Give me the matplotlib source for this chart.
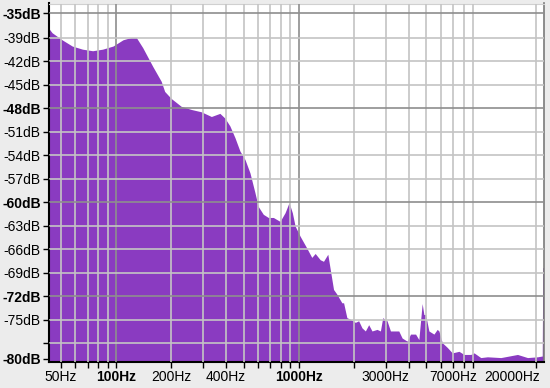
import matplotlib.pyplot as plt
import numpy as np

# spectrum readings (Hz, dB)
freq_hz = [43, 45, 51, 58, 66, 75, 85, 97, 110, 122, 130, 141, 160, 178, 186, 202,
           229, 260, 295, 335, 373, 397, 423, 451, 480, 512, 545, 580, 605, 645, 687,
           732, 796, 848, 892, 930, 963, 1026, 1115, 1188, 1240, 1321, 1377, 1454,
           1499, 1563, 1630, 1736, 1774, 1849, 1931, 2057, 2145, 2237, 2334, 2434,
           2538, 2704, 2822, 2905, 3068, 3203, 3339, 3557, 3710, 3952, 4125, 4396,
           4581, 4777, 4881, 4988, 5199, 5540, 5774, 5900, 6152, 6554, 6982, 7599,
           8093, 8812, 9189, 10000, 10873, 12880, 15890, 18030, 20460, 21700, 21850,
           22050]
level_db = [-37.8, -38.4, -39.3, -40.1, -40.5, -40.7, -40.5, -40.1, -39.3, -39.0,
            -39.0, -40.3, -42.7, -44.6, -45.9, -46.8, -47.8, -48.2, -48.5, -49.1,
            -48.7, -49.3, -50.3, -51.8, -53.5, -54.6, -56.3, -58.8, -60.6, -61.6,
            -62.0, -62.0, -62.5, -61.4, -60.1, -61.4, -63.1, -64.4, -65.9, -67.1,
            -66.6, -67.4, -67.6, -66.7, -68.6, -71.2, -71.8, -72.9, -72.9, -74.8,
            -75.0, -75.4, -75.2, -76.1, -76.5, -75.7, -76.5, -76.3, -76.5, -74.8,
            -75.2, -76.5, -76.5, -76.5, -77.4, -77.8, -76.9, -76.9, -77.6, -73.0,
            -74.4, -74.4, -76.5, -76.9, -76.3, -76.5, -78.0, -78.6, -79.3, -79.1,
            -79.5, -79.5, -79.3, -79.9, -79.8, -79.9, -79.5, -79.9, -79.8, -79.7,
            -68.4, -68.4]

x_ticks = [50, 60, 70, 80, 90, 100, 200, 300, 400, 500, 600, 700, 800, 900,
           1000, 2000, 3000, 4000, 5000, 6000, 7000, 8000, 9000, 20000]
x_labeled = {50: '50Hz', 100: '100Hz', 200: '200Hz', 400: '400Hz',
             1000: '1000Hz', 3000: '3000Hz', 7000: '7000Hz', 20000: '20000Hz'}
x_bold = [100, 1000]

y_ticks = [-35.85, -39, -42, -45, -48, -51, -54, -57, -60, -63, -66, -69, -72, -75, -78, -80]
y_labels = ['-35dB', '-39dB', '-42dB', '-45dB', '-48dB', '-51dB', '-54dB', '-57dB',
            '-60dB', '-63dB', '-66dB', '-69dB', '-72dB', '-75dB', '', '-80dB']
y_bold = ['-35dB', '-48dB', '-60dB', '-72dB', '-80dB']

plt.rcParams['font.family'] = ['Liberation Sans', 'DejaVu Sans']

fig = plt.figure(figsize=(5.5, 3.88), dpi=100, facecolor='#ececec')
ax = fig.add_axes([49/550, 1-362/388, 495/550, 358.5/388])
ax.set_facecolor('white')

ax.fill_between(freq_hz, level_db, -90, color='#8a3bc1', linewidth=0, zorder=1)

ax.set_xscale('log')
ax.set_xlim(43, 22050)
ax.set_ylim(-80.4, -34.6)

ax.set_xticks(x_ticks)
ax.set_xticklabels([x_labeled.get(t, '') for t in x_ticks])
ax.xaxis.set_minor_locator(plt.NullLocator())
ax.set_yticks(y_ticks)
ax.set_yticklabels(y_labels)

ax.set_axisbelow(False)
ax.grid(True, color='#c4c4c4', linewidth=1.2, zorder=2)
for t, tick in zip(x_ticks, ax.xaxis.get_major_ticks()):
    if t in x_bold:
        tick.gridline.set_color('#8e8e8e')
for lab, tick in zip(y_labels, ax.yaxis.get_major_ticks()):
    if lab in ['-35dB', '-48dB', '-60dB', '-72dB']:
        tick.gridline.set_color('#8e8e8e')
    if lab == '-80dB':
        tick.gridline.set_visible(False)

ax.tick_params(axis='both', direction='out', length=4, width=1, colors='black',
               labelsize=10, pad=2)
for label in ax.get_xticklabels():
    if label.get_text() in [x_labeled[b] for b in x_bold]:
        label.set_fontweight('bold')
    if label.get_text() == '20000Hz':
        label.set_horizontalalignment('right')
        label.set_x(label.get_position()[0])
for label in ax.get_yticklabels():
    if label.get_text() in y_bold:
        label.set_fontweight('bold')

# shift the last x label so it stays inside the figure, like the reference
import matplotlib.transforms as mtransforms
last = ax.get_xticklabels()[-1]
last.set_transform(last.get_transform() + mtransforms.ScaledTranslation(4/100, 0, fig.dpi_scale_trans))

for side in ['left', 'bottom']:
    ax.spines[side].set_color('black')
    ax.spines[side].set_linewidth(1.5)
ax.spines['right'].set_color('#7a7a7a')
ax.spines['right'].set_linewidth(1.2)
ax.spines['top'].set_color('#d0d0d0')

fig.savefig('out.png', dpi=100, facecolor=fig.get_facecolor())
